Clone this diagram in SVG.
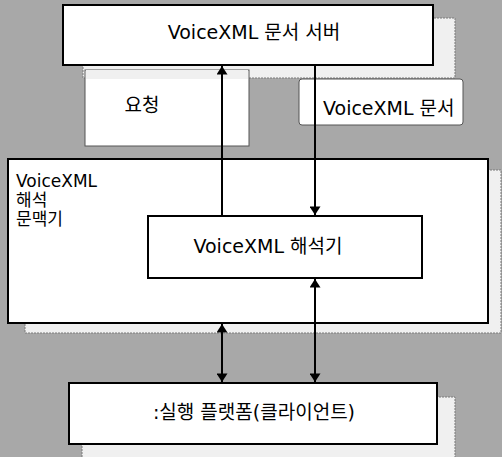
<svg xmlns="http://www.w3.org/2000/svg" width="502" height="457" viewBox="0 0 502 457">
<defs>
<marker id="ah" viewBox="0 0 10 13" refX="10" refY="6.5" markerWidth="13" markerHeight="11" markerUnits="userSpaceOnUse" orient="auto-start-reverse">
<path d="M0,0 L10,6.5 L0,13 Z" fill="#000"/>
</marker>
<style>
.box{fill:#fff;stroke:#000;stroke-width:2}
.shadow{fill:#f0f0f0;stroke:#7a7a7a;stroke-width:1;stroke-dasharray:2 1}
.lab{fill:#fff;stroke:#555;stroke-width:1}
.t{font-family:"DejaVu Sans","Noto Sans CJK KR",sans-serif;font-size:19px;fill:#000}
.s{font-size:17px}
.c{stroke:#000;stroke-width:2;fill:none}
</style>
</defs>
<rect width="502" height="457" fill="#a8a8a8"/>
<g id="shadows">
<rect class="shadow" x="83" y="18" width="372" height="60"/>
<rect class="shadow" x="25" y="170" width="476" height="163"/>
<rect class="shadow" x="162" y="233" width="270" height="59"/>
<rect class="shadow" x="82" y="397" width="373" height="62"/>
</g>
<g id="request">
<rect class="lab" x="85" y="70" width="164" height="76"/>
<rect x="86" y="70" width="162" height="9" fill="#f0f0f0"/>
<text class="t" x="142" y="112" text-anchor="middle">요청</text>
</g>
<g id="document">
<rect class="lab" x="299" y="79" width="164" height="46" rx="3"/>
<text class="t" x="323" y="115">VoiceXML 문서</text>
</g>
<g id="server">
<rect class="box" x="63" y="5" width="370" height="60"/>
<text class="t" x="254" y="39" text-anchor="middle">VoiceXML 문서 서버</text>
</g>
<g id="context">
<rect class="box" x="8" y="159" width="480" height="164"/>
<text class="t s" x="16" y="187">VoiceXML<tspan x="16" y="206">해석</tspan><tspan x="16" y="225">문맥기</tspan></text>
</g>
<g id="interpreter">
<rect class="box" x="148" y="216" width="274" height="62"/>
<text class="t" x="268" y="253" text-anchor="middle">VoiceXML 해석기</text>
</g>
<g id="platform">
<rect class="box" x="69" y="383" width="368" height="61"/>
<text class="t" x="254" y="419" text-anchor="middle">:실행 플랫폼(클라이언트)</text>
</g>
<g id="connectors">
<line class="c" x1="222" y1="216" x2="222" y2="66" marker-end="url(#ah)"/>
<line class="c" x1="315" y1="66" x2="315" y2="215" marker-end="url(#ah)"/>
<line class="c" x1="222" y1="324" x2="222" y2="382" marker-start="url(#ah)" marker-end="url(#ah)"/>
<line class="c" x1="315" y1="279" x2="315" y2="382" marker-start="url(#ah)" marker-end="url(#ah)"/>
</g>
</svg>
